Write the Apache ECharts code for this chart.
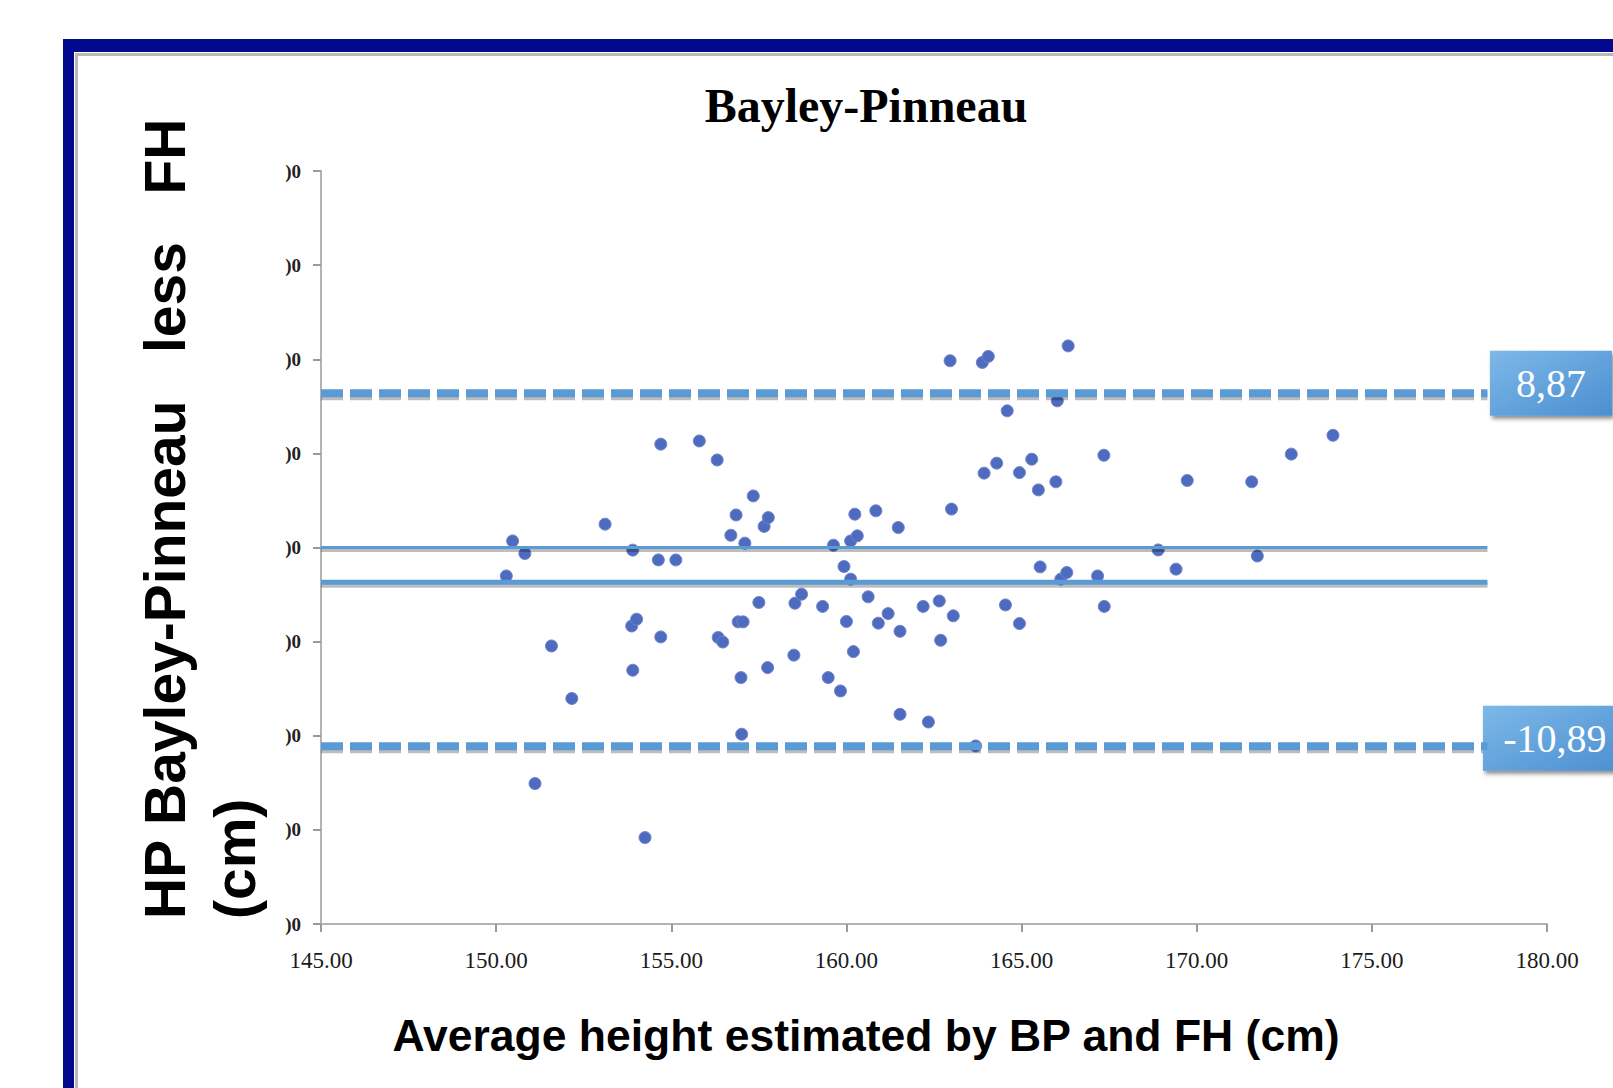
<!DOCTYPE html>
<html>
<head>
<meta charset="utf-8">
<script src="https://cdn.jsdelivr.net/npm/echarts@6/dist/echarts.min.js"></script>
<style>
html,body{margin:0;padding:0;background:#ffffff;}
#chart{width:1613px;height:1088px;}
</style>
</head>
<body>
<div id="chart"></div>
<script>
// ---- data ----
const avgHeight = [
  150.47,150.82,150.29,151.58,151.11,152.16,153.11,153.90,153.87,154.01,
  153.90,154.25,154.70,154.63,155.13,154.70,155.80,156.31,156.34,156.47,
  156.70,156.85,157.10,157.34,157.65,157.77,156.91,157.05,156.99,157.01,
  157.50,157.75,158.50,158.53,158.72,159.32,159.48,159.83,159.63,159.93,
  160.12,160.31,160.24,160.12,160.00,160.20,160.62,160.84,160.91,161.19,
  161.48,161.53,161.53,162.19,162.65,162.69,162.34,163.05,163.00,162.96,
  163.93,164.29,163.88,164.05,164.59,164.54,164.94,163.69,164.94,165.29,
  165.48,165.98,166.02,166.33,165.53,166.12,166.29,167.17,167.36,167.35,
  168.90,169.41,169.73,171.57,171.73,172.70,173.89
];
const difference = [
  0.35,-0.32,-1.51,-5.23,-12.54,-8.02,1.24,-0.14,-4.17,-3.81,
  -6.52,-15.41,5.49,-0.66,-0.66,-4.75,5.66,4.65,-4.78,-5.02,
  0.65,1.73,0.23,2.74,1.12,1.59,-3.95,-3.95,-6.91,-9.92,
  -2.92,-6.38,-5.72,-2.96,-2.48,-3.13,-6.91,-7.62,0.12,-1.01,
  0.35,0.62,1.77,-1.68,-3.93,-5.53,-2.62,1.95,-4.02,-3.51,
  1.06,-4.45,-8.86,-3.13,-2.84,-4.93,-9.27,-3.63,2.04,9.92,
  3.95,4.48,9.83,10.15,7.26,-3.05,-4.04,-10.54,3.98,4.69,
  3.06,3.49,7.79,10.71,-1.03,-1.68,-1.33,-1.51,-3.13,4.90,
  -0.13,-1.15,3.56,3.49,-0.45,4.96,5.96
];
// reference lines (positions as drawn in the picture)
const upperLimit = 8.2;
const zeroLine = 0;
const meanLine = -1.85;
const lowerLimit = -10.56;
const lineStartX = 145;
const lineEndX = 178.3;
const upperLabel = '8,87';
const lowerLabel = '-10,89';
// axis
const xMin = 145, xMax = 180, xStep = 5;
const yMin = -20, yMax = 20, yStep = 5;
const yTickText = ')0';
const shadowShift = 0.16; // drop-shadow offset of the reference lines, in axis units

const chart = echarts.init(document.getElementById('chart'), null, {renderer: 'svg'});

const lineBlue = '#5b9bd5';
const shadowGray = 'rgba(0,0,0,0.26)';
const boxGradient = new echarts.graphic.LinearGradient(0, 0, 1, 1, [
  {offset: 0, color: '#7db8e8'},
  {offset: 1, color: '#4b8fd1'}
]);

function hLine(name, y, color, width, dash, z, markPoint) {
  const s = {
    type: 'line',
    name: name,
    data: [[lineStartX, y], [lineEndX, y]],
    symbol: 'none',
    showSymbol: false,
    silent: true,
    z: z,
    lineStyle: {color: color, width: width, type: dash, cap: 'butt'},
    animation: false
  };
  if (markPoint) s.markPoint = markPoint;
  return s;
}

function boxMark(y, text, w, offX, offY) {
  return {
    symbol: 'rect',
    symbolSize: [w, 65],
    symbolOffset: [offX, offY],
    silent: true,
    animation: false,
    itemStyle: {
      color: boxGradient,
      shadowColor: 'rgba(0,0,0,0.45)',
      shadowBlur: 4,
      shadowOffsetX: 2,
      shadowOffsetY: 3
    },
    label: {
      show: true,
      position: 'inside',
      formatter: text,
      color: '#ffffff',
      fontFamily: 'Liberation Serif',
      fontSize: 40
    },
    data: [{coord: [lineEndX, y], value: text}]
  };
}

const dash = [22, 7];

const option = {
  backgroundColor: '#ffffff',
  animation: false,
  title: {
    text: 'Bayley-Pinneau',
    left: 861,
    top: 76,
    textAlign: 'center',
    textStyle: {
      fontFamily: 'Liberation Serif',
      fontWeight: 'bold',
      fontSize: 48,
      color: '#000000'
    }
  },
  grid: {left: 321, right: 66, top: 171, bottom: 164, containLabel: false},
  xAxis: {
    type: 'value',
    min: xMin, max: xMax, interval: xStep,
    axisLine: {show: true, onZero: false, lineStyle: {color: '#b3b3b3', width: 2}},
    axisTick: {show: true, inside: false, length: 8, lineStyle: {color: '#9a9a9a', width: 2}},
    splitLine: {show: false},
    axisLabel: {
      margin: 25,
      formatter: v => v.toFixed(2),
      fontFamily: 'Liberation Serif',
      fontSize: 23,
      color: '#1a1a1a'
    }
  },
  yAxis: {
    type: 'value',
    min: yMin, max: yMax, interval: yStep,
    axisLine: {show: true, onZero: false, lineStyle: {color: '#b3b3b3', width: 2}},
    axisTick: {show: true, inside: false, length: 8, lineStyle: {color: '#9a9a9a', width: 2}},
    splitLine: {show: false},
    axisLabel: {
      margin: 20,
      formatter: () => yTickText,
      fontFamily: 'Liberation Serif',
      fontWeight: 'bold',
      fontSize: 19,
      color: '#222222'
    }
  },
  graphic: [
    {type: 'rect', z: -10, shape: {x: 63, y: 39, width: 1570, height: 13}, style: {fill: '#03098c'}},
    {type: 'rect', z: -10, shape: {x: 63, y: 39, width: 11, height: 1070}, style: {fill: '#03098c'}},
    {type: 'polyline', z: -10, shape: {points: [[76.5, 1100], [76.5, 54.5], [1630, 54.5]]},
      style: {stroke: '#b9b9b9', lineWidth: 3, fill: null}},
    {
      type: 'text', x: 130, y: 919, rotation: Math.PI / 2,
      style: {
        text: 'HP Bayley-Pinneau   less   FH\n(cm)',
        font: 'bold 57px "Liberation Sans"',
        fill: '#000000',
        align: 'left',
        verticalAlign: 'top',
        lineHeight: 70
      }
    },
    {
      type: 'text', x: 866, y: 1035,
      style: {
        text: 'Average height estimated by BP and FH (cm)',
        font: 'bold 44.5px "Liberation Sans"',
        fill: '#000000',
        align: 'center',
        verticalAlign: 'middle'
      }
    }
  ],
  series: [
    {
      type: 'scatter',
      name: 'difference',
      data: avgHeight.map((x, i) => [x, difference[i]]),
      symbol: 'circle',
      symbolSize: 12,
      z: 3,
      itemStyle: {color: '#4d6cc0', borderColor: '#7482cc', borderWidth: 1, opacity: 1}
    },
    // soft drop shadows under the reference lines
    hLine('upper shadow', upperLimit - shadowShift, shadowGray, 8, dash, 4),
    hLine('zero shadow', zeroLine - shadowShift, shadowGray, 3, 'solid', 4),
    hLine('mean shadow', meanLine - shadowShift, shadowGray, 5, 'solid', 4),
    hLine('lower shadow', lowerLimit - shadowShift, shadowGray, 8, dash, 4),
    // reference lines
    hLine('upper', upperLimit, lineBlue, 8, dash, 5, boxMark(upperLimit, upperLabel, 122, 63.5, -10)),
    hLine('zero', zeroLine, lineBlue, 3, 'solid', 5),
    hLine('mean', meanLine, lineBlue, 5, 'solid', 5),
    hLine('lower', lowerLimit, lineBlue, 8, dash, 5, boxMark(lowerLimit, lowerLabel, 144, 67.5, -8))
  ]
};
chart.setOption(option);
</script>
</body>
</html>
